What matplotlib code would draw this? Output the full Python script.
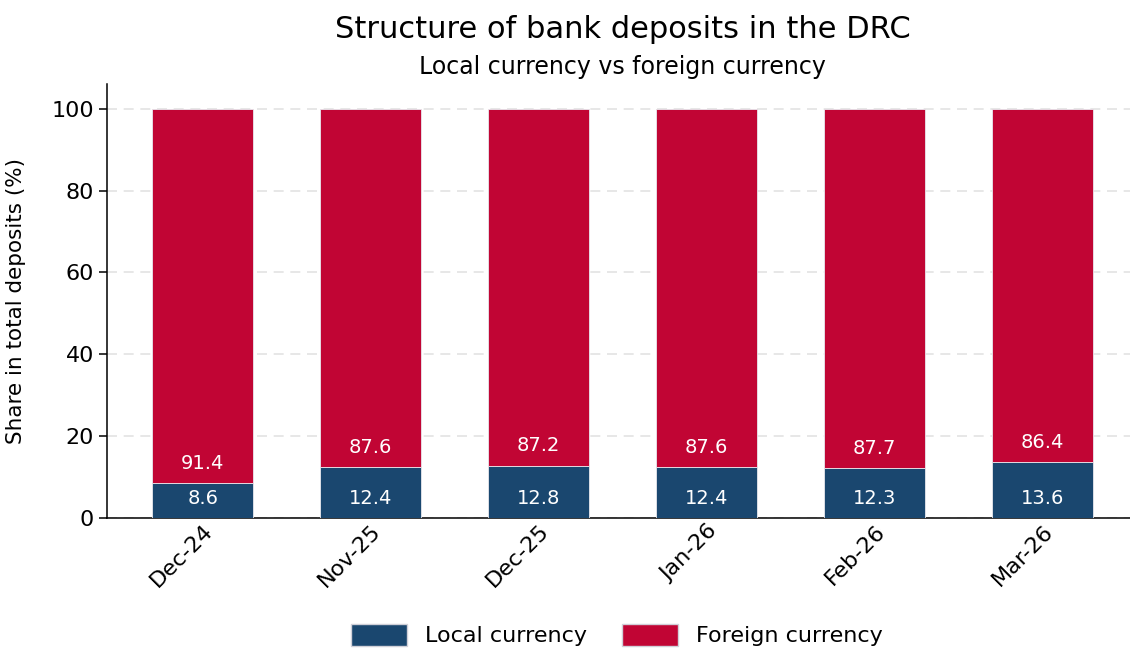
import numpy as np
import matplotlib.pyplot as plt
from matplotlib.patches import Patch

plt.rcParams['font.family'] = ['DejaVu Sans']

months = ["Dec-24", "Nov-25", "Dec-25", "Jan-26", "Feb-26", "Mar-26"]
local_share = [8.6, 12.4, 12.8, 12.4, 12.3, 13.6]
foreign_share = [91.4, 87.6, 87.2, 87.6, 87.7, 86.4]

navy = "#1a476f"
cranberry = "#c10534"

fig = plt.figure(figsize=(11.3, 6.53), dpi=100)
ax = fig.add_axes([0.0947, 0.2067, 0.9053, 0.6643])

x = np.arange(len(months))
local = np.array(local_share)
foreign = np.array(foreign_share)

ax.bar(x, local, width=0.6, color=navy, edgecolor="#e8e8ee", linewidth=0.6, zorder=3)
ax.bar(x, foreign, width=0.6, bottom=local, color=cranberry, edgecolor="#e8e8ee",
       linewidth=0.6, zorder=3)

# value labels sit just inside the base of each segment
for i in range(len(months)):
    ax.text(x[i], 4.8, f"{local[i]:.1f}", ha="center", va="center",
            color="white", fontsize=14, zorder=4)
    ax.text(x[i], local[i] + 4.8, f"{foreign[i]:.1f}", ha="center", va="center",
            color="white", fontsize=14, zorder=4)

ax.set_xlim(-0.57, 5.52)
ax.set_ylim(0, 106)
ax.set_yticks([0, 20, 40, 60, 80, 100])
ax.set_xticks(x)
ax.set_xticklabels(months, rotation=45, ha="right", rotation_mode="anchor", fontsize=16)
ax.tick_params(axis="y", labelsize=16, length=6, width=1.1)
ax.tick_params(axis="x", length=0, pad=2)
ax.set_ylabel("Share in total deposits (%)", fontsize=15.5, labelpad=18)

ax.grid(axis="y", color="#e3e3e3", linestyle=(0, (6, 4)), linewidth=1.2, zorder=0)
ax.spines["top"].set_visible(False)
ax.spines["right"].set_visible(False)
ax.spines["left"].set_linewidth(1.1)
ax.spines["bottom"].set_linewidth(1.1)

fig.text(0.551, 0.955, "Structure of bank deposits in the DRC", ha="center",
         va="center", fontsize=22)
fig.text(0.551, 0.897, "Local currency vs foreign currency", ha="center",
         va="center", fontsize=17)

handles = [Patch(facecolor=navy, edgecolor="#d0d0d8", label="Local currency"),
           Patch(facecolor=cranberry, edgecolor="#d0d0d8", label="Foreign currency")]
fig.legend(handles=handles, loc="center", bbox_to_anchor=(0.546, 0.027), ncol=2,
           frameon=False, fontsize=16, handlelength=2.5, handleheight=1.1,
           columnspacing=1.6, handletextpad=0.8)

fig.savefig("out.png", dpi=100)
